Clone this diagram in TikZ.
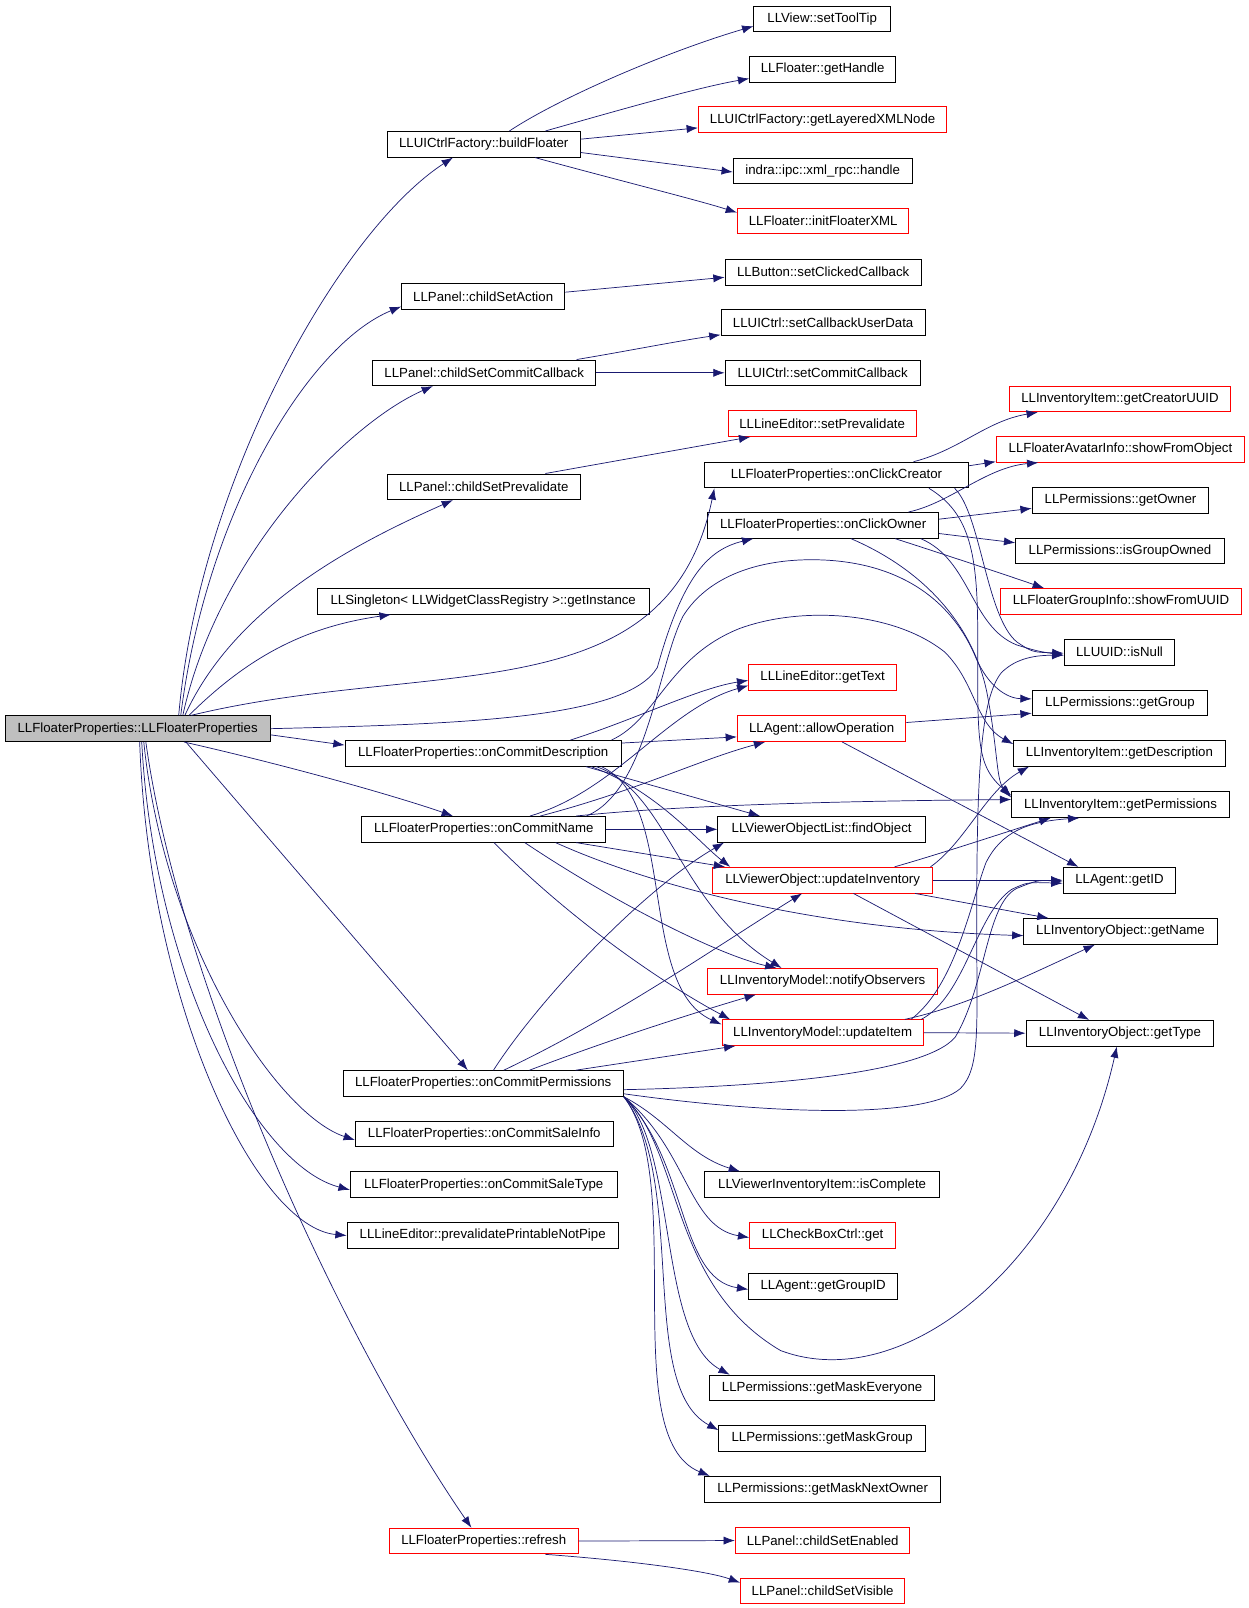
\documentclass[tikz,border=0pt]{standalone}
\usepackage{fontspec}
\setmainfont{Liberation Sans}
\usepackage{tikz}
\usetikzlibrary{arrows.meta}
\definecolor{edgeblue}{RGB}{25,25,112}
\definecolor{rootgray}{RGB}{191,191,191}
\tikzset{
  fn/.style={rectangle, draw, line width=0.9pt, minimum height=25pt, inner xsep=0pt, font=\fontsize{12.9}{14}\selectfont},
  fnred/.style={fn, draw=red},
  fnroot/.style={fn, fill=rootgray},
  call/.style={>={Latex[length=11pt,width=8pt]}, ->, draw=edgeblue, line width=0.7pt}
}
\begin{document}
\begin{tikzpicture}[x=1pt, y=-1pt]
\useasboundingbox (0,0) rectangle (1215.2,1565.7);

\node[fnroot, minimum width=258pt] (root) at (134,709.5) {LLFloaterProperties::LLFloaterProperties};

\node[fn, minimum width=188pt] (build) at (471,140.5) {LLUICtrlFactory::buildFloater};
	\node[fn, minimum width=133pt] (tip) at (800.5,18.5) {LLView::setToolTip};
	\node[fn, minimum width=142pt] (handle) at (801,67.5) {LLFloater::getHandle};
	\node[fnred, minimum width=242pt] (xmlnode) at (801,116.5) {LLUICtrlFactory::getLayeredXMLNode};
	\node[fn, minimum width=174pt] (rpc) at (801,166.5) {indra::ipc::xml\_rpc::handle};
	\node[fnred, minimum width=167pt] (initxml) at (801.5,215) {LLFloater::initFloaterXML};
\node[fn, minimum width=159pt] (act) at (470.5,288.5) {LLPanel::childSetAction};
	\node[fn, minimum width=191pt] (clicked) at (801.5,265) {LLButton::setClickedCallback};
\node[fn, minimum width=217pt] (commitcb) at (471.5,363) {LLPanel::childSetCommitCallback};
	\node[fn, minimum width=199pt] (userdata) at (801.5,314) {LLUICtrl::setCallbackUserData};
	\node[fn, minimum width=190pt] (commit) at (801,363) {LLUICtrl::setCommitCallback};
\node[fn, minimum width=188pt] (preval) at (471,474) {LLPanel::childSetPrevalidate};
	\node[fnred, minimum width=183pt] (setpre) at (800.5,412.5) {LLLineEditor::setPrevalidate};
\node[fn, minimum width=323pt] (inst) at (470.5,585.5) {LLSingleton< LLWidgetClassRegistry >::getInstance};
\node[fn, minimum width=269pt] (desc) at (470.5,733.5) {LLFloaterProperties::onCommitDescription};
\node[fn, minimum width=238pt] (name) at (471,807.5) {LLFloaterProperties::onCommitName};
\node[fn, minimum width=273pt] (perms) at (470.5,1055) {LLFloaterProperties::onCommitPermissions};
\node[fn, minimum width=251pt] (sinfo) at (471.5,1104) {LLFloaterProperties::onCommitSaleInfo};
\node[fn, minimum width=260pt] (stype) at (471,1153.5) {LLFloaterProperties::onCommitSaleType};
\node[fn, minimum width=264pt] (ppipe) at (470,1203) {LLLineEditor::prevalidatePrintableNotPipe};
\node[fnred, minimum width=184pt] (refr) at (471,1500.5) {LLFloaterProperties::refresh};

	\node[fn, minimum width=257pt] (creator) at (814.5,462.5) {LLFloaterProperties::onClickCreator};
	\node[fn, minimum width=225pt] (owner) at (801.5,511.5) {LLFloaterProperties::onClickOwner};
	\node[fnred, minimum width=144pt] (gettext) at (801,659.5) {LLLineEditor::getText};
	\node[fnred, minimum width=164pt] (allowop) at (800,709.5) {LLAgent::allowOperation};
	\node[fn, minimum width=202pt] (findobj) at (800,807.5) {LLViewerObjectList::findObject};
	\node[fnred, minimum width=214pt] (updinv) at (801,857) {LLViewerObject::updateInventory};
	\node[fnred, minimum width=224pt] (notify) at (801,955.5) {LLInventoryModel::notifyObservers};
	\node[fnred, minimum width=196pt] (upditem) at (801,1005.5) {LLInventoryModel::updateItem};
	\node[fn, minimum width=229pt] (complete) at (800.5,1153.5) {LLViewerInventoryItem::isComplete};
	\node[fnred, minimum width=142pt] (cbget) at (801,1203) {LLCheckBoxCtrl::get};
	\node[fn, minimum width=145pt] (groupid) at (801.5,1252.5) {LLAgent::getGroupID};
	\node[fn, minimum width=219pt] (maskev) at (800.5,1351.5) {LLPermissions::getMaskEveryone};
	\node[fn, minimum width=201pt] (maskgr) at (800.5,1400.5) {LLPermissions::getMaskGroup};
	\node[fn, minimum width=230pt] (masknx) at (801,1450) {LLPermissions::getMaskNextOwner};
	\node[fnred, minimum width=170pt] (enabled) at (801,1500) {LLPanel::childSetEnabled};
	\node[fnred, minimum width=160pt] (visible) at (801,1549) {LLPanel::childSetVisible};

		\node[fnred, minimum width=215pt] (creatoruuid) at (1090.5,388.5) {LLInventoryItem::getCreatorUUID};
		\node[fnred, minimum width=242pt] (showobj) at (1091,437.5) {LLFloaterAvatarInfo::showFromObject};
		\node[fn, minimum width=172pt] (getowner) at (1091,487) {LLPermissions::getOwner};
		\node[fn, minimum width=203pt] (grpowned) at (1090.5,536.5) {LLPermissions::isGroupOwned};
		\node[fnred, minimum width=235pt] (showuuid) at (1091.5,585.5) {LLFloaterGroupInfo::showFromUUID};
		\node[fn, minimum width=108pt] (isnull) at (1090,635) {LLUUID::isNull};
		\node[fn, minimum width=171pt] (getgroup) at (1090.5,684.5) {LLPermissions::getGroup};
		\node[fn, minimum width=206pt] (getdesc) at (1090,733.5) {LLInventoryItem::getDescription};
		\node[fn, minimum width=212pt] (getperm) at (1091,783.5) {LLInventoryItem::getPermissions};
		\node[fn, minimum width=110pt] (getid) at (1090,857) {LLAgent::getID};
		\node[fn, minimum width=188pt] (getname) at (1091,907) {LLInventoryObject::getName};
		\node[fn, minimum width=183pt] (gettype) at (1090.5,1006) {LLInventoryObject::getType};


\draw[call] ([xshift=40pt]root.north) .. controls (194,467) and (331,225) .. ([xshift=-30pt]build.south);
\draw[call] ([xshift=42pt]root.north) .. controls (201,497) and (301,335) .. ([yshift=-10pt]act.west);
\draw[call] ([xshift=44pt]root.north) .. controls (213,537) and (341,411) .. ([xshift=-50pt]commitcb.south);
\draw[call] ([xshift=46pt]root.north) .. controls (230,587) and (351,527) .. ([xshift=-30pt]preval.south);
\draw[call] ([xshift=50pt]root.north) .. controls (244,637) and (300,610) .. ([xshift=-90pt]inst.south);
\draw[call] ([xshift=52pt]root.north) .. controls (420,640) and (650,697) .. ([xshift=10pt]creator.south west);
\draw[call] (root.east) .. controls (450,705) and (610,700) .. (640,650) .. controls (665,560) and (690,535) .. ([xshift=-68pt]owner.south);
\draw[call] ([yshift=-6pt]root.east) -- ([yshift=8pt]desc.west);
\draw[call] ([xshift=45pt]root.south) .. controls (300,750) and (400,780) .. ([xshift=-30pt]name.north);
\draw[call] ([xshift=47pt]root.south) -- ([xshift=-15pt]perms.north);
\draw[call] ([xshift=6pt]root.south) .. controls (160,920) and (270,1085) .. ([yshift=-6pt]sinfo.west);
\draw[call] ([xshift=4pt]root.south) .. controls (150,950) and (250,1135) .. ([yshift=-5pt]stype.west);
\draw[call] ([xshift=2pt]root.south) .. controls (145,980) and (250,1195) .. (ppipe.west);
\draw[call] ([xshift=8pt]root.south) .. controls (175,960) and (330,1300) .. ([xshift=-12pt]refr.north);

\draw[call] ([xshift=25pt]build.north) .. controls (545,95) and (650,50) .. ([yshift=-7pt]tip.west);
\draw[call] ([xshift=60pt]build.north) .. controls (600,108) and (680,85) .. ([yshift=-9pt]handle.west);
\draw[call] ([yshift=5pt]build.east) -- ([yshift=-8pt]xmlnode.west);
\draw[call] ([yshift=-8pt]build.east) -- ([yshift=-1pt]rpc.west);
\draw[call] ([xshift=50pt]build.south) .. controls (600,175) and (680,195) .. ([yshift=8pt]initxml.west);
\draw[call] ([yshift=4pt]act.east) -- ([yshift=-5pt]clicked.west);
\draw[call] ([xshift=90pt]commitcb.north) .. controls (610,342) and (660,332) .. ([yshift=-12pt]userdata.west);
\draw[call] (commitcb.east) -- (commit.west);
\draw[call] ([xshift=60pt]preval.north) -- ([xshift=-70pt]setpre.south);

\draw[call] ([xshift=75pt]creator.north) .. controls (935,438) and (960,410) .. ([xshift=-80pt]creatoruuid.south);
\draw[call] ([yshift=9pt]creator.east) -- ([yshift=-12pt]showobj.west);
\draw[call] ([xshift=90pt]creator.south) .. controls (945,500) and (952,540) .. (952,620) .. controls (952,720) and (950,745) .. ([yshift=9pt]getperm.west);
\draw[call] ([xshift=115pt]creator.south) .. controls (955,500) and (960,600) .. (990,625) .. controls (1005,635) .. ([yshift=-1pt]isnull.west);
\draw[call] ([xshift=83pt]owner.north) .. controls (925,490) and (960,455) .. ([xshift=-80pt]showobj.south);
\draw[call] ([yshift=6pt]owner.east) -- ([yshift=-8pt]getowner.west);
\draw[call] ([yshift=-8pt]owner.east) -- ([yshift=8pt]grpowned.west);
\draw[call] ([xshift=70pt]owner.south) .. controls (920,540) and (980,560) .. ([xshift=-75pt]showuuid.north);
\draw[call] ([xshift=95pt]owner.south) .. controls (945,545) and (945,610) .. (990,628) .. controls (1010,634) .. ([yshift=-3pt]isnull.west);
\draw[call] ([xshift=27pt]owner.south) .. controls (900,555) and (950,610) .. (962,680) .. controls (972,735) and (970,760) .. ([yshift=7pt]getperm.west);

\draw[call] ([xshift=100pt]name.north) .. controls (630,770) and (640,650) .. (665,600) .. controls (690,560) and (740,545) .. (790,545) .. controls (870,545) and (925,580) .. (950,640) .. controls (962,668) and (980,680) .. ([yshift=4pt]getgroup.west);
\draw[call] ([xshift=125pt]desc.north) .. controls (640,700) and (650,640) .. (720,612) .. controls (780,590) and (870,595) .. (920,635) .. controls (950,665) and (950,705) .. ([yshift=9pt]getdesc.west);

\draw[call] ([xshift=85pt]desc.north) .. controls (620,700) and (680,670) .. ([yshift=-3pt]gettext.west);
\draw[call] ([yshift=10pt]desc.east) -- ([yshift=-8pt]allowop.west);
\draw[call] ([xshift=100pt]desc.south) -- ([xshift=-60pt]findobj.north);
\draw[call] ([xshift=105pt]desc.south) .. controls (640,770) and (680,820) .. ([xshift=-90pt]updinv.north);
\draw[call] ([xshift=110pt]desc.south) .. controls (650,770) and (660,880) .. ([xshift=-40pt]notify.north);
\draw[call] ([xshift=115pt]desc.south) .. controls (660,780) and (620,960) .. ([yshift=8pt]upditem.west);

\draw[call] ([xshift=45pt]name.north) .. controls (600,770) and (650,690) .. ([yshift=-8pt]gettext.west);
\draw[call] ([xshift=55pt]name.north) .. controls (620,770) and (680,740) .. ([xshift=-55pt]allowop.south);
\draw[call] ([xshift=90pt]name.north) .. controls (650,785) and (800,780) .. ([yshift=5pt]getperm.west);
\draw[call] (name.east) -- (findobj.west);
\draw[call] ([xshift=90pt]name.south) -- ([xshift=-95pt]updinv.north);
\draw[call] ([xshift=70pt]name.south) .. controls (640,865) and (800,905) .. ([yshift=-4pt]getname.west);
\draw[call] ([xshift=40pt]name.south) .. controls (600,880) and (700,930) .. ([xshift=-45pt]notify.north);
\draw[call] ([xshift=10pt]name.south) .. controls (560,900) and (650,960) .. ([xshift=-90pt]upditem.north);

\draw[call] ([xshift=10pt]perms.north) .. controls (520,980) and (620,870) .. ([xshift=-95pt]findobj.south);
\draw[call] ([xshift=20pt]perms.north) .. controls (600,990) and (700,920) .. ([xshift=-20pt]updinv.south);
\draw[call] ([xshift=45pt]perms.north) .. controls (600,1010) and (680,985) .. ([xshift=-65pt]notify.south);
\draw[call] ([xshift=90pt]perms.north) -- ([xshift=-85pt]upditem.south);
\draw[call] ([yshift=-6pt]perms.east) .. controls (750,1058) and (900,1045) .. (930,1010) .. controls (960,960) and (960,880) .. (990,865) .. controls (1010,857) .. ([yshift=-1pt]getid.west);
\draw[call] ([yshift=-10pt]perms.east) .. controls (750,1085) and (900,1090) .. (935,1060) .. controls (955,1040) and (951,1000) .. (951,900) .. controls (951,750) and (955,680) .. (975,655) .. controls (990,640) and (1010,638) .. ([yshift=-3pt]isnull.west);
\draw[call] (perms.south east) .. controls (650,1090) and (670,1125) .. ([xshift=-80pt]complete.north);
\draw[call] (perms.south east) .. controls (670,1120) and (670,1195) .. ([yshift=-2pt]cbget.west);
\draw[call] (perms.south east) .. controls (670,1130) and (660,1245) .. ([yshift=-3pt]groupid.west);
\draw[call] (perms.south east) .. controls (665,1120) and (650,1250) .. (760,1315) .. controls (880,1360) and (1040,1230) .. ([xshift=-3pt]gettype.south);
\draw[call] (perms.south east) .. controls (660,1120) and (640,1300) .. ([xshift=-90pt]maskev.north);
\draw[call] (perms.south east) .. controls (670,1150) and (620,1350) .. ([yshift=8pt]maskgr.west);
\draw[call] (perms.south east) .. controls (670,1150) and (600,1400) .. ([xshift=-110pt]masknx.north);

\draw[call] (updinv.east) -- (getid.west);
\draw[call] ([xshift=90pt]updinv.south) -- ([xshift=-70pt]getname.north);
\draw[call] ([xshift=30pt]updinv.south) -- ([xshift=-30pt]gettype.north);
\draw[call] ([xshift=70pt]updinv.north) .. controls (920,830) and (980,810) .. ([xshift=-68pt]getperm.south);
\draw[call] ([xshift=105pt]updinv.north) .. controls (940,820) and (960,770) .. ([xshift=-88pt]getdesc.south);
\draw[call] ([yshift=6pt]allowop.east) -- ([yshift=-10pt]getgroup.west);
\draw[call] ([xshift=20pt]allowop.south) -- ([xshift=-40pt]getid.north);
\draw[call] (upditem.east) -- (gettype.west);
\draw[call] ([xshift=80pt]upditem.north) .. controls (940,980) and (1000,950) .. ([xshift=-25pt]getname.south);
\draw[call] ([xshift=96pt]upditem.north) .. controls (940,970) and (950,890) .. (985,866) .. controls (1000,859) .. ([yshift=-3pt]getid.west);
\draw[call] ([xshift=86pt]upditem.north) .. controls (930,960) and (945,880) .. (960,840) .. controls (975,810) and (1000,800) .. ([xshift=-40pt]getperm.south);

\draw[call] (refr.east) -- (enabled.west);
\draw[call] ([xshift=60pt]refr.south) .. controls (620,1520) and (690,1530) .. ([yshift=8pt]visible.west);

\end{tikzpicture}
\end{document}
